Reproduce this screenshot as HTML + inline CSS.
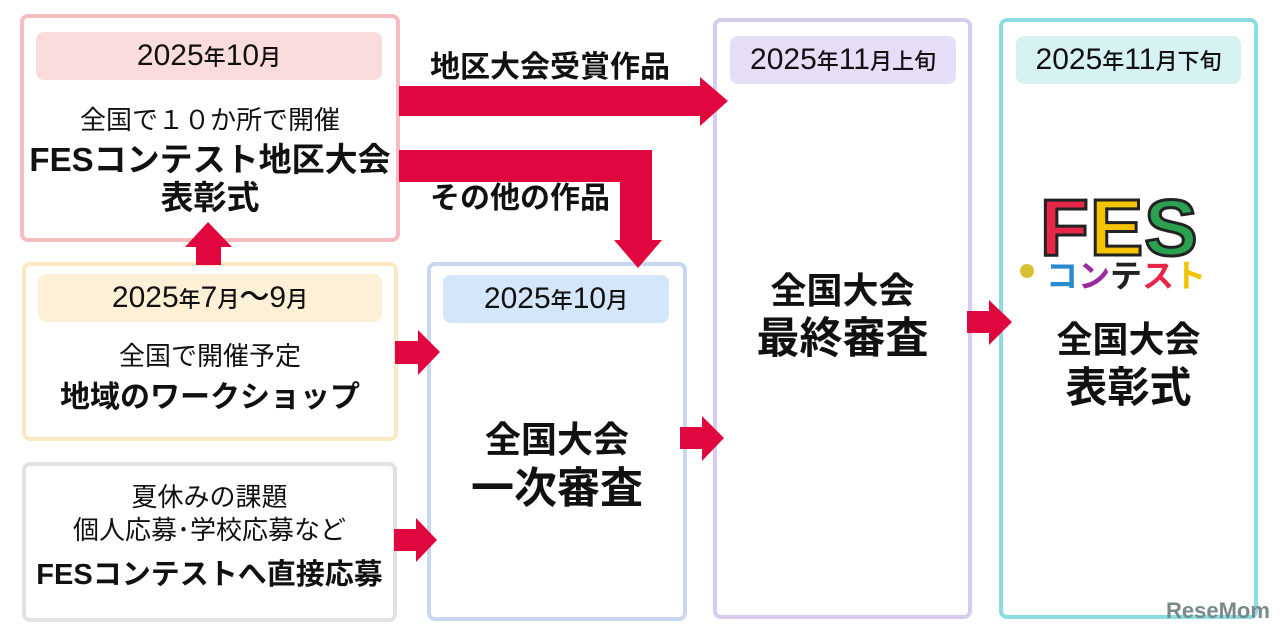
<!DOCTYPE html>
<html><head><meta charset="utf-8"><style>
body{margin:0;width:1280px;height:643px;background:#fff;position:relative;overflow:hidden;font-family:"Liberation Sans","Noto Sans CJK JP",sans-serif;color:#111}
.box{position:absolute;box-sizing:border-box;border-radius:8px;border:4px solid}
.pill{position:absolute;border-radius:8px;text-align:center;font-size:30px;line-height:48px;font-weight:500}
.pill span{font-size:22px}
.t{position:absolute;text-align:center;white-space:nowrap;line-height:1}
.b{font-weight:bold}
</style></head><body>
<div class="box" style="left:20px;top:14px;width:380px;height:228px;border-color:#f6bcc0"></div>
<div class="pill" style="left:36px;top:32px;width:346px;height:48px;background:#fbdcdc">2025<span>年</span>10<span>月</span></div>
<div class="t" style="left:20px;width:380px;top:107px;font-size:26px">全国で１０か所で開催</div>
<div class="t b" style="left:20px;width:380px;top:143px;font-size:33px">FESコンテスト地区大会</div>
<div class="t b" style="left:20px;width:380px;top:181px;font-size:33px">表彰式</div>

<div class="box" style="left:22px;top:262px;width:376px;height:179px;border-color:#fde8c4"></div>
<div class="pill" style="left:38px;top:274px;width:344px;height:48px;background:#fdf0d6">2025<span>年</span>7<span>月</span>～9<span>月</span></div>
<div class="t" style="left:22px;width:376px;top:343px;font-size:26px">全国で開催予定</div>
<div class="t b" style="left:22px;width:376px;top:383px;font-size:30px">地域のワークショップ</div>

<div class="box" style="left:22px;top:462px;width:375px;height:160px;border-color:#e2e2e2"></div>
<div class="t" style="left:22px;width:375px;top:484px;font-size:26px">夏休みの課題</div>
<div class="t" style="left:22px;width:375px;top:517px;font-size:26px">個人応募･学校応募など</div>
<div class="t b" style="left:22px;width:375px;top:561px;font-size:29px">FESコンテストへ直接応募</div>

<div class="box" style="left:427px;top:262px;width:260px;height:359px;border-color:#c8d8f0"></div>
<div class="pill" style="left:443px;top:275px;width:226px;height:48px;background:#d6e6fa">2025<span>年</span>10<span>月</span></div>
<div class="t b" style="left:427px;width:260px;top:422px;font-size:36px">全国大会</div>
<div class="t b" style="left:427px;width:260px;top:468px;font-size:43px">一次審査</div>

<div class="box" style="left:713px;top:18px;width:259px;height:601px;border-color:#d8ccee"></div>
<div class="pill" style="left:730px;top:36px;width:226px;height:48px;background:#e6ddf6">2025<span>年</span>11<span>月上旬</span></div>
<div class="t b" style="left:713px;width:259px;top:273px;font-size:36px">全国大会</div>
<div class="t b" style="left:713px;width:259px;top:318px;font-size:43px">最終審査</div>

<div class="box" style="left:999px;top:18px;width:259px;height:601px;border-color:#8adde0"></div>
<div class="pill" style="left:1016px;top:36px;width:225px;height:48px;background:#d6f2f2">2025<span>年</span>11<span>月下旬</span></div>
<div class="t b" style="left:999px;width:259px;top:322px;font-size:36px">全国大会</div>
<div class="t b" style="left:999px;width:259px;top:367px;font-size:42px">表彰式</div>

<div class="t b" style="left:1040px;top:188px;font-size:80px;letter-spacing:1px;font-family:'Liberation Sans',sans-serif;-webkit-text-stroke:3px #222"><span style="color:#e8264a">F</span><span style="color:#f5c400">E</span><span style="color:#2aa050">S</span></div>
<div class="t b" style="left:1046px;top:260px;font-size:32px"><span style="color:#2a8ad0">コ</span><span style="color:#9a2aa0">ン</span><span style="color:#222">テ</span><span style="color:#e8264a">ス</span><span style="color:#f0c400">ト</span></div>
<div style="position:absolute;left:1020px;top:264px;width:14px;height:14px;border-radius:50%;background:#d9c030"></div>

<div class="t b" style="left:430px;top:53px;font-size:30px">地区大会受賞作品</div>
<div class="t b" style="left:430px;top:184px;font-size:30px">その他の作品</div>

<svg width="1280" height="643" style="position:absolute;left:0;top:0" fill="#e0063e">
<polygon points="399,86 700,86 700,77 728,101 700,126 700,116 399,116"/>
<polygon points="399,150 652,150 652,240 662,240 638,268 614,240 620,240 620,182 399,182"/>
<polygon points="196,265 196,247 185,247 208,222 232,247 221,247 221,265"/>
<polygon points="395,341 418,341 418,330 440,352 418,375 418,364 395,364"/>
<polygon points="394,529 416,529 416,518 437,540 416,562 416,551 394,551"/>
<polygon points="680,427 702,427 702,416 724,438 702,461 702,449 680,449"/>
<polygon points="967,311 989,311 989,300 1012,322 989,345 989,333 967,333"/>
</svg>
<div class="t b" style="left:1166px;top:600px;font-size:22px;color:#7a8a8a">ReseMom</div>
</body></html>
